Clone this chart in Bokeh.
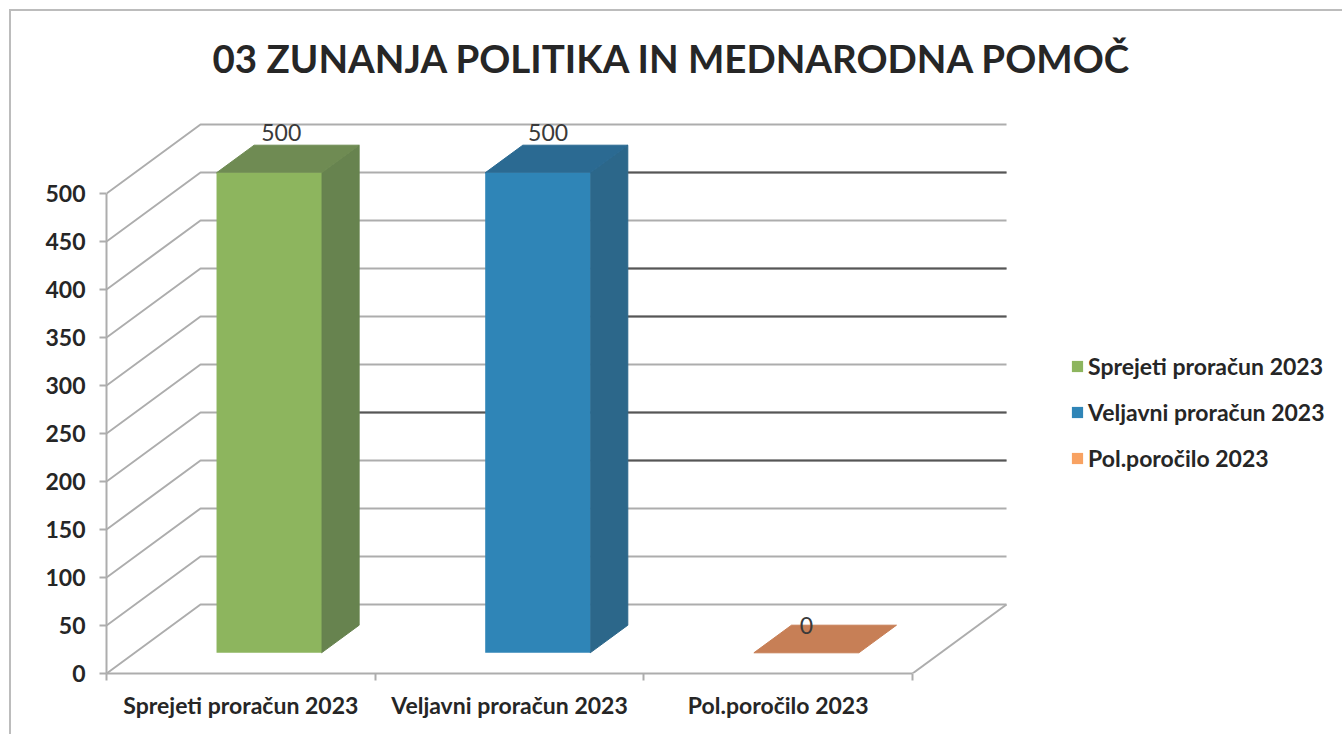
from bokeh.plotting import figure
from bokeh.embed import file_html
from bokeh.resources import INLINE
from bokeh.models import (FixedTicker, Legend, LegendItem, ColumnDataSource, Range1d)
from bokeh.core.properties import value

# ---- data ----
title_text = "03 ZUNANJA POLITIKA IN MEDNARODNA POMOČ"
categories = ["Sprejeti proračun 2023", "Veljavni proračun 2023", "Pol.poročilo 2023"]
series_values = [500, 500, 0]
y_ticks = [0, 50, 100, 150, 200, 250, 300, 350, 400, 450, 500]
dark_from_blue = [450, 350, 300, 200, 150]   # scan-darkened gridlines
dark_from_green = [200]

# ---- colours ----
front_colors = ["#8db55e", "#2f85b7", "#f8a262"]
side_colors = ["#67834f", "#2c678a", "#c77f56"]
top_colors = ["#6f8b53", "#2b6a92", "#c77f56"]
GRID = "#adadad"
DARK = "#565656"
TEXT = "#262626"
FONT = "Lato"
BORDER = "#bcbcbc"

# ---- scales and pseudo-3D projection (all in data units) ----
PX_X = 268.67       # px per category
PX_Y = 0.96         # px per value unit
DX = 94 / PX_X      # horizontal shift of full depth
DY = 69 / PX_Y      # vertical shift of full depth
BAR_W = 105 / PX_X
D_FRONT, D_BACK = 0.30, 0.70


def px(x, d):
    return x + d * DX


def py(y, d):
    return y + d * DY


FW, FH = 1342, 734
LEFT, BOTTOM, TOP = 106, 61, 85
frame_w = FW - LEFT
frame_h = FH - BOTTOM - TOP

p = figure(width=FW, height=FH, output_backend="svg", toolbar_location=None,
           x_range=Range1d(0, frame_w / PX_X), y_range=Range1d(0, frame_h / PX_Y),
           frame_width=frame_w, frame_height=frame_h,
           min_border_left=LEFT, min_border_bottom=BOTTOM, min_border_top=TOP, min_border_right=0,
           background_fill_color="white", border_fill_color=None)
p.outline_line_color = None
p.grid.visible = False

# page border: two thin lines painted behind the transparent canvas border
p.styles = {
    "background-color": "white",
    "background-image": f"linear-gradient({BORDER},{BORDER}),linear-gradient({BORDER},{BORDER})",
    "background-size": "2px 100%, 100% 2px",
    "background-position": "9px 9px, 9px 9px",
    "background-repeat": "no-repeat",
}

p.title.text = title_text
p.title.align = "left"
p.title.offset = 106
p.title.text_font = FONT
p.title.text_font_style = "bold"
p.title.text_font_size = "38.5px"
p.title.text_color = TEXT

# axes
ax = p.xaxis[0]
ax.bounds = (0, 3)
ax.ticker = FixedTicker(ticks=[0.5, 1.5, 2.5], minor_ticks=[0, 1, 2, 3])
ax.major_label_overrides = {0.5: categories[0], 1.5: categories[1], 2.5: categories[2]}
ax.major_tick_line_color = None
ax.minor_tick_line_color = GRID
ax.minor_tick_line_width = 2
ax.minor_tick_in = 0
ax.minor_tick_out = 7
ax.axis_line_color = GRID
ax.axis_line_width = 2
ax.major_label_standoff = 10
ax.major_label_text_font = FONT
ax.major_label_text_font_size = "23px"
ax.major_label_text_color = TEXT
ax.major_label_text_font_style = "bold"

ay = p.yaxis[0]
ay.bounds = (0, 500)
ay.ticker = FixedTicker(ticks=y_ticks)
ay.major_tick_line_color = GRID
ay.major_tick_line_width = 2
ay.major_tick_in = 0
ay.major_tick_out = 7
ay.axis_line_color = GRID
ay.axis_line_width = 2
ay.minor_tick_line_color = None
ay.major_label_standoff = 14
ay.major_label_text_font = FONT
ay.major_label_text_font_size = "23px"
ay.major_label_text_color = TEXT
ay.major_label_text_font_style = "bold"

# walls and floor
xs, ys = [], []
for v in y_ticks:
    xs.append([0, px(0, 1), px(3, 1)])
    ys.append([v, py(v, 1), py(v, 1)])
xs.append([3, px(3, 1)])
ys.append([0, py(0, 1)])
p.multi_line(xs, ys, line_color=GRID, line_width=2)

# darker scan lines
bars_x = [i + 0.5 for i in range(3)]
blue_right = px(bars_x[1] + BAR_W / 2, D_BACK)
green_right = px(bars_x[0] + BAR_W / 2, D_BACK)
dxs = [[blue_right, px(3, 1)] for v in dark_from_blue] + [[green_right, blue_right] for v in dark_from_green]
dys = [[py(v, 1), py(v, 1)] for v in dark_from_blue] + [[py(v, 1), py(v, 1)] for v in dark_from_green]
p.multi_line(dxs, dys, line_color=DARK, line_width=2)

# bars
items = []
for i, (cx, val) in enumerate(zip(bars_x, series_values)):
    l, r = cx - BAR_W / 2, cx + BAR_W / 2
    if val > 0:
        p.patch([px(r, D_FRONT), px(r, D_BACK), px(r, D_BACK), px(r, D_FRONT)],
                [py(0, D_FRONT), py(0, D_BACK), py(val, D_BACK), py(val, D_FRONT)],
                fill_color=side_colors[i], line_color=side_colors[i], line_width=1)
    p.patch([px(l, D_FRONT), px(l, D_BACK), px(r, D_BACK), px(r, D_FRONT)],
            [py(val, D_FRONT), py(val, D_BACK), py(val, D_BACK), py(val, D_FRONT)],
            fill_color=top_colors[i], line_color=top_colors[i], line_width=1)
    q = p.quad(left=[px(l, D_FRONT)], right=[px(r, D_FRONT)], bottom=[py(0, D_FRONT)], top=[py(val, D_FRONT)],
               fill_color=front_colors[i], line_color=None)
    items.append(LegendItem(label=categories[i], renderers=[q]))

# data labels
label_depth = [0.43, 0.41, 0.30]
label_off = [-13, -13, 0]
src = ColumnDataSource(dict(x=[px(c, d) for c, d in zip(bars_x, label_depth)],
                            y=[py(v, D_BACK) for v in series_values],
                            t=[str(v) for v in series_values], off=label_off))
p.text(x="x", y="y", text="t", y_offset="off", source=src, text_align="center", text_baseline="middle",
       text_font=value(FONT), text_font_size="23px", text_color="#3a3a3a")

leg = Legend(items=items, location=(964, 201), orientation="vertical", background_fill_alpha=0,
             border_line_color=None, padding=0, margin=0, spacing=18, label_height=20, glyph_height=14,
             glyph_width=14, label_standoff=4, label_text_font=FONT, label_text_font_size="23px",
             label_text_color=TEXT, label_text_font_style="bold", label_text_baseline="middle")
p.add_layout(leg)

open("out.html", "w").write(file_html(p, INLINE))
